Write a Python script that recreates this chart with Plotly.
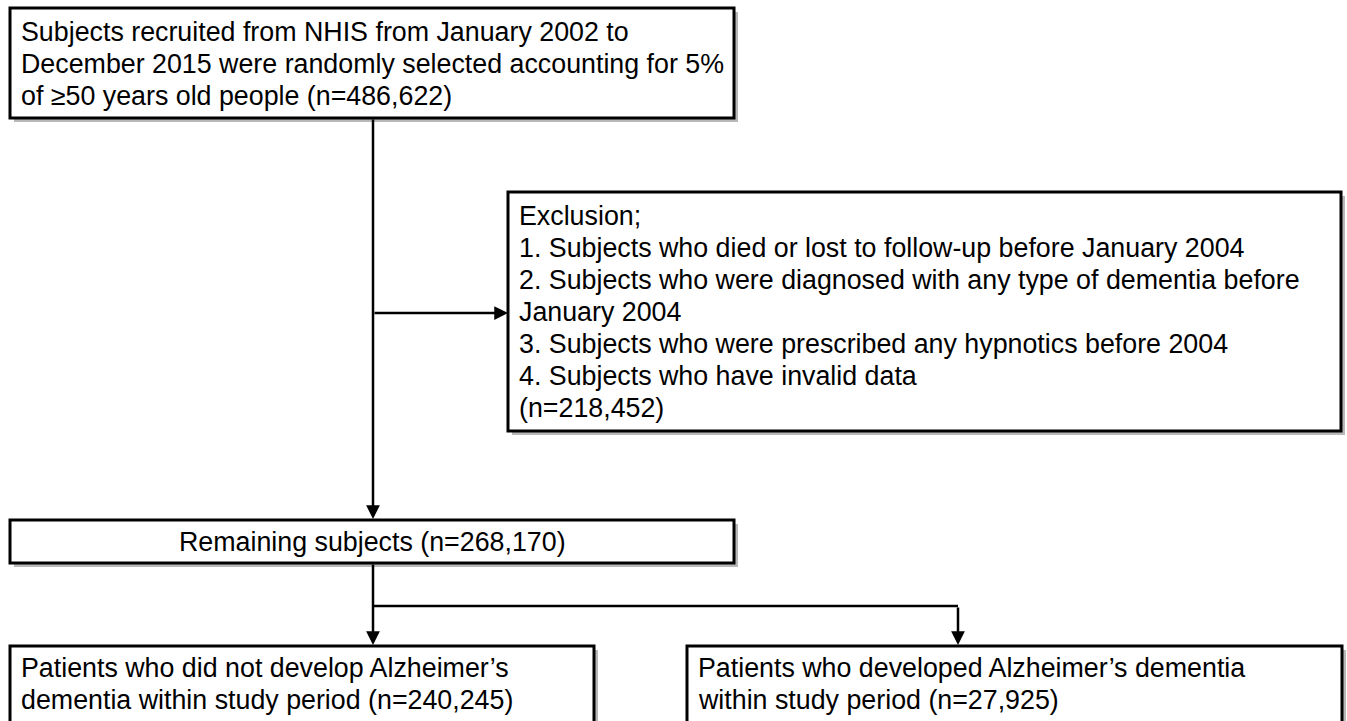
import plotly.graph_objects as go

# ---- content ----
box1_lines = [
    "Subjects recruited from NHIS from January 2002 to",
    "December 2015 were randomly selected accounting for 5%",
    "of ≥50 years old people (n=486,622)",
]
exclusion_lines = [
    "Exclusion;",
    "1. Subjects who died or lost to follow-up before January 2004",
    "2. Subjects who were diagnosed with any type of dementia before",
    "January 2004",
    "3. Subjects who were prescribed any hypnotics before 2004",
    "4. Subjects who have invalid data",
    "(n=218,452)",
]
remaining_lines = ["Remaining subjects (n=268,170)"]
no_ad_lines = [
    "Patients who did not develop Alzheimer’s",
    "dementia within study period (n=240,245)",
]
ad_lines = [
    "Patients who developed Alzheimer’s dementia",
    "within study period (n=27,925)",
]
box_texts = [box1_lines, exclusion_lines, remaining_lines, no_ad_lines, ad_lines]

# ---- layout geometry (pixels) ----
boxes = [  # x0, y0, x1, y1
    (10, 8, 734, 118),
    (508, 192, 1341, 431),
    (10, 520, 734, 563),
    (10, 646, 594, 740),
    (687, 646, 1342, 740),
]
text_pos = [  # x, first-line y, xanchor
    (19, 32, "left"),
    (517, 216, "left"),
    (372, 542, "center"),
    (19, 668, "left"),
    (696, 668, "left"),
]
LINE_GAP = 32
FONT = dict(family="Liberation Sans, Arial", size=26.8, color="black")

fig = go.Figure()
shapes = []
for (x0, y0, x1, y1) in boxes:
    shapes.append(dict(type="rect", x0=x0 + 4, y0=y0 + 4, x1=x1 + 4, y1=y1 + 4,
                       line=dict(width=0), fillcolor="rgba(0,0,0,0.28)", layer="below"))
    shapes.append(dict(type="rect", x0=x0, y0=y0, x1=x1, y1=y1,
                       line=dict(color="black", width=3), fillcolor="white", layer="below"))

shapes.append(dict(type="line", x0=373, y0=606, x1=958, y1=606,
                   line=dict(color="black", width=2.5)))

annotations = []
for lines, (x, y, xa) in zip(box_texts, text_pos):
    for i, t in enumerate(lines):
        annotations.append(dict(x=x, y=y + i * LINE_GAP, xref="x", yref="y", text=t,
                                showarrow=False, xanchor=xa, yanchor="middle",
                                font=FONT))

arrows = [  # tail -> head
    ((373, 118), (373, 519)),
    ((373, 313), (508, 313)),
    ((373, 563), (373, 645)),
    ((958, 606), (958, 645)),
]
for (tx, ty), (hx, hy) in arrows:
    annotations.append(dict(x=hx, y=hy, ax=tx, ay=ty, xref="x", yref="y", axref="x", ayref="y",
                            text="", showarrow=True, arrowhead=2, arrowsize=1.1,
                            arrowwidth=2.5, arrowcolor="black", standoff=0))

fig.update_layout(
    shapes=shapes, annotations=annotations,
    width=1347, height=721, margin=dict(l=0, r=0, t=0, b=0),
    paper_bgcolor="white", plot_bgcolor="white",
    xaxis=dict(range=[0, 1347], visible=False, fixedrange=True),
    yaxis=dict(range=[721, 0], visible=False, fixedrange=True),
    showlegend=False,
)
fig.write_html(
    "out.html",
    config={"displayModeBar": False},
    post_script="document.body.style.margin='0';document.body.style.overflow='hidden';",
)
